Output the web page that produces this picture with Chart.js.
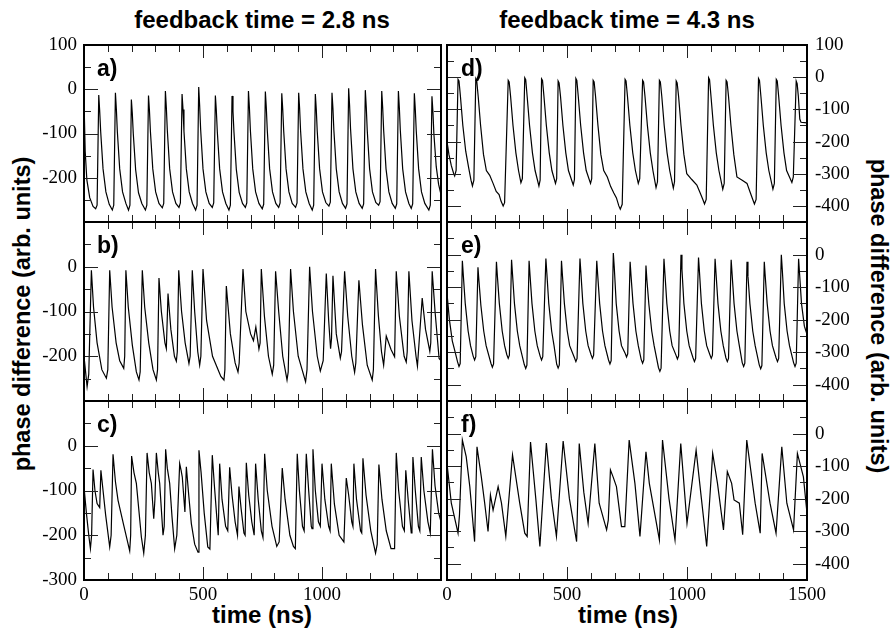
<!DOCTYPE html>
<html>
<head>
<meta charset="utf-8">
<script src="https://cdn.jsdelivr.net/npm/chart.js@4.4.1/dist/chart.umd.min.js"></script>
<style>
body { margin: 0; background: #fff; width: 894px; height: 632px; position: relative; overflow: hidden; font-family: "Liberation Sans", Arial, sans-serif; }
canvas { position: absolute; }
.t { position: absolute; font-weight: bold; font-size: 24px; line-height: 24px; white-space: nowrap; color: #000; }
.lab { position: absolute; font-weight: bold; font-size: 23px; line-height: 23px; color: #000; }
</style>
</head>
<body>
<div class="t" style="left:262px;top:8px;transform:translateX(-50%)">feedback time = 2.8 ns</div>
<div class="t" style="left:627px;top:8px;transform:translateX(-50%)">feedback time = 4.3 ns</div>
<div class="t" style="left:262px;top:603px;transform:translateX(-50%)">time (ns)</div>
<div class="t" style="left:628px;top:603px;transform:translateX(-50%)">time (ns)</div>
<div class="t" style="left:22px;top:314px;font-size:23.5px;transform:translate(-50%,-50%) rotate(-90deg)">phase difference (arb. units)</div>
<div class="t" style="left:879px;top:316px;font-size:23.5px;transform:translate(-50%,-50%) rotate(90deg)">phase difference (arb. units)</div>

<script>
// time axis (ns) shared by all panels
const timeTicks = [0, 500, 1000, 1500];

// left column: feedback time = 2.8 ns
const seriesA = [
  [0,-25],[5,-140],[12,-205],[24,-245],[38,-265],[49,-270],[55,-262],
  [62,-13],[66,-50],[70,-95],[80,-180],[92,-232],[106,-260],[119,-273],[125,-262],
  [132,-8],[136,-45],[140,-95],[150,-180],[162,-232],[176,-258],[187,-273],[193,-262],
  [199,-23],[203,-55],[207,-100],[217,-182],[229,-234],[243,-258],[258,-273],[264,-262],
  [271,-14],[275,-48],[279,-95],[289,-180],[301,-232],[315,-258],[329,-268],[335,-258],
  [342,-4],[346,-42],[350,-92],[360,-180],[372,-232],[386,-258],[399,-267],[405,-257],
  [412,-11],[416,-46],[420,-95],[430,-180],[442,-232],[456,-258],[469,-273],[475,-262],
  [482,5],[486,-38],[490,-90],[500,-180],[512,-232],[526,-258],[539,-267],[545,-257],
  [552,-14],[556,-48],[560,-95],[570,-180],[582,-232],[596,-258],[609,-273],[615,-262],
  [622,-15],[626,-50],[630,-96],[640,-181],[652,-233],[666,-258],[678,-267],[684,-257],
  [691,-4],[695,-42],[699,-92],[709,-180],[721,-232],[735,-258],[749,-270],[755,-260],
  [762,-5],[766,-42],[770,-92],[780,-180],[792,-232],[806,-258],[818,-267],[824,-257],
  [831,-9],[835,-45],[839,-94],[849,-180],[861,-232],[875,-258],[889,-267],[895,-257],
  [902,-8],[906,-44],[910,-94],[920,-180],[932,-232],[946,-258],[959,-273],[965,-262],
  [972,-11],[976,-46],[980,-95],[990,-180],[1002,-232],[1016,-256],[1029,-264],[1035,-255],
  [1042,-8],[1046,-44],[1050,-94],[1060,-180],[1072,-232],[1086,-258],[1099,-269],[1105,-259],
  [1112,2],[1116,-38],[1120,-90],[1130,-180],[1142,-232],[1156,-258],[1169,-269],[1175,-259],
  [1182,-2],[1186,-40],[1190,-92],[1200,-180],[1212,-232],[1226,-256],[1238,-262],[1244,-254],
  [1251,-4],[1255,-42],[1259,-92],[1269,-180],[1281,-232],[1295,-258],[1308,-269],[1314,-259],
  [1321,-4],[1325,-42],[1329,-92],[1339,-180],[1351,-232],[1365,-258],[1375,-269],[1381,-259],
  [1388,-9],[1392,-45],[1396,-94],[1406,-180],[1418,-232],[1432,-258],[1449,-273],[1455,-262],
  [1462,-16],[1466,-50],[1470,-100],[1480,-175],[1490,-215],[1500,-238]
];

const seriesB = [
  [0,-200],[13,-268],[20,-240],[31,-8],[40,-90],[55,-170],[75,-230],[94,-249],[100,-230],
  [108,-8],[118,-90],[135,-170],[150,-210],[167,-227],[171,-200],[176,-8],[186,-90],[203,-175],
  [220,-235],[231,-253],[236,-235],[245,-8],[255,-90],[272,-170],[290,-230],[304,-253],[309,-230],
  [315,-25],[325,-100],[340,-170],[346,-183],[353,-60],[365,-140],[380,-200],[388,-211],[392,-190],
  [398,-8],[410,-100],[425,-170],[441,-216],[446,-200],[455,-8],[465,-100],[478,-190],[486,-220],
  [491,-200],[500,-5],[515,-120],[540,-200],[575,-245],[588,-253],[592,-230],[598,-43],[615,-150],
  [635,-215],[647,-235],[652,-215],[668,-5],[680,-100],[700,-150],[712,-165],[722,-135],[735,-184],
  [740,-170],[745,-5],[758,-110],[775,-200],[791,-240],[797,-220],[805,-10],[818,-100],[835,-200],
  [853,-253],[858,-235],[868,-5],[880,-100],[900,-200],[931,-257],[937,-230],[948,0],[960,-100],
  [980,-200],[993,-233],[1005,-210],[1018,-15],[1028,-120],[1036,-183],[1040,-160],[1046,-20],
  [1060,-150],[1077,-204],[1082,-190],[1095,-10],[1108,-110],[1125,-200],[1137,-236],[1142,-215],
  [1155,-30],[1170,-130],[1190,-220],[1211,-253],[1216,-230],[1225,-5],[1237,-110],[1250,-190],
  [1259,-220],[1270,-155],[1290,-185],[1305,-201],[1312,-10],[1325,-110],[1345,-200],[1354,-213],
  [1358,-190],[1365,-10],[1378,-120],[1395,-200],[1401,-222],[1421,-70],[1435,-140],[1453,-189],
  [1457,-170],[1463,-10],[1475,-100],[1492,-205],[1500,-210]
];

const seriesC = [
  [0,-92],[10,-150],[20,-200],[27,-230],[32,-200],[38,-53],[46,-100],[55,-129],[66,-138],[71,-55],
  [80,-100],[91,-155],[108,-226],[114,-200],[122,-19],[132,-80],[143,-122],[155,-150],[167,-178],
  [192,-235],[196,-200],[200,-23],[210,-60],[220,-84],[241,-204],[251,-240],[258,-200],[265,-16],
  [274,-60],[283,-84],[293,-163],[298,-120],[304,-16],[312,-60],[318,-84],[332,-200],[337,-180],
  [343,-8],[350,-50],[360,-84],[370,-160],[381,-230],[390,-200],[402,-40],[408,-55],[413,-70],
  [424,-148],[430,-47],[440,-110],[451,-174],[465,-220],[479,-238],[483,-10],[492,-60],[505,-150],
  [520,-226],[529,-231],[539,-21],[548,-90],[558,-160],[564,-200],[570,-40],[580,-120],[595,-180],
  [604,-190],[612,-48],[622,-110],[635,-170],[645,-200],[651,-91],[660,-140],[672,-195],[677,-200],
  [682,-38],[692,-110],[705,-170],[715,-200],[721,-40],[732,-120],[745,-190],[752,-205],[759,-18],
  [770,-100],[790,-180],[810,-225],[820,-215],[833,-50],[845,-120],[865,-200],[880,-225],[888,-230],
  [896,-18],[905,-100],[918,-180],[925,-190],[934,-18],[944,-100],[955,-180],[958,-185],[962,-8],
  [972,-100],[985,-170],[993,-180],[1000,-40],[1012,-120],[1028,-180],[1034,-190],[1039,-40],
  [1052,-130],[1072,-200],[1092,-215],[1102,-72],[1112,-110],[1125,-170],[1130,-180],[1134,-40],
  [1145,-120],[1162,-190],[1167,-195],[1172,-28],[1185,-110],[1205,-190],[1225,-240],[1232,-220],
  [1239,-42],[1252,-120],[1270,-190],[1290,-230],[1305,-230],[1312,-16],[1322,-100],[1338,-180],
  [1346,-190],[1352,-55],[1362,-120],[1375,-195],[1378,-190],[1382,-25],[1392,-100],[1405,-180],
  [1411,-190],[1417,-25],[1428,-100],[1445,-170],[1455,-195],[1464,-8],[1475,-90],[1490,-150],[1500,-170]
];

// right column: feedback time = 4.3 ns
const seriesD = [
  [0,-200],[8,-240],[18,-275],[28,-300],[32,-307],[38,-290],
  [46,-7],[50,-12],[56,-60],[66,-150],[78,-230],[90,-280],[100,-320],[106,-338],[112,-320],
  [120,-5],[124,-12],[130,-60],[140,-150],[152,-240],[164,-290],[178,-305],[192,-330],[205,-355],
  [217,-365],[225,-385],[234,-400],[240,-390],
  [255,-10],[259,-15],[265,-60],[275,-150],[287,-235],[298,-290],[308,-328],[314,-315],
  [324,-2],[328,-8],[334,-60],[344,-150],[356,-235],[367,-290],[383,-338],[388,-320],
  [394,-5],[398,-10],[404,-60],[414,-150],[426,-235],[437,-290],[452,-330],[457,-315],
  [463,-12],[467,-18],[473,-60],[483,-150],[495,-235],[506,-290],[526,-335],[531,-318],
  [537,-4],[541,-10],[547,-60],[557,-150],[569,-235],[580,-290],[598,-330],[603,-315],
  [609,-10],[613,-15],[619,-60],[629,-150],[641,-240],[653,-290],[668,-310],[682,-340],[695,-360],
  [706,-375],[716,-400],[722,-410],[730,-395],
  [742,-7],[746,-12],[752,-60],[762,-150],[774,-235],[785,-290],[797,-330],[803,-315],
  [815,-10],[819,-15],[825,-60],[835,-150],[847,-235],[858,-290],[871,-343],[877,-325],
  [885,-10],[889,-15],[895,-60],[905,-150],[917,-235],[928,-290],[943,-345],[948,-325],
  [955,-12],[959,-18],[965,-60],[975,-150],[987,-240],[999,-300],[1020,-318],[1041,-335],[1055,-360],
  [1066,-380],[1073,-394],[1080,-380],
  [1090,-2],[1094,-8],[1100,-60],[1110,-150],[1122,-235],[1133,-290],[1149,-348],[1155,-330],
  [1163,-10],[1167,-15],[1173,-60],[1183,-150],[1195,-240],[1208,-310],[1230,-320],[1250,-330],
  [1262,-355],[1274,-380],[1281,-394],[1288,-380],
  [1298,-4],[1302,-10],[1308,-60],[1318,-150],[1330,-235],[1341,-290],[1358,-348],[1364,-330],
  [1372,-7],[1376,-12],[1382,-60],[1392,-150],[1404,-235],[1415,-290],[1437,-327],[1443,-310],
  [1455,-12],[1459,-20],[1464,-60],[1470,-130],[1475,-140],[1500,-142]
];

const seriesE = [
  [0,-120],[10,-200],[22,-265],[34,-300],[44,-330],[50,-344],[55,-335],
  [64,-19],[68,-64],[76,-150],[88,-235],[98,-280],[109,-312],[115,-324],[120,-314],
  [129,-39],[133,-80],[141,-155],[153,-235],[163,-280],[183,-334],[189,-346],[194,-336],
  [206,-22],[210,-67],[218,-150],[230,-235],[240,-280],[249,-307],[255,-319],[260,-309],
  [269,-16],[273,-61],[281,-150],[293,-235],[303,-280],[322,-338],[328,-350],[333,-340],
  [342,-19],[346,-64],[354,-150],[366,-235],[376,-280],[388,-312],[394,-324],[399,-314],
  [412,-12],[416,-57],[424,-150],[436,-235],[446,-280],[457,-337],[463,-349],[468,-339],
  [477,-19],[481,-64],[489,-150],[501,-235],[511,-280],[531,-317],[537,-329],[542,-319],
  [554,-12],[558,-57],[566,-150],[578,-235],[588,-280],[600,-307],[606,-319],[611,-309],
  [624,-19],[628,-64],[636,-150],[648,-235],[658,-280],[673,-324],[679,-336],[684,-326],
  [693,5],[697,-40],[705,-150],[717,-235],[727,-280],[742,-303],[748,-315],[753,-305],
  [763,-22],[767,-67],[775,-150],[787,-235],[797,-280],[809,-322],[815,-334],[820,-324],
  [829,-34],[833,-79],[841,-152],[853,-235],[863,-280],[881,-347],[887,-359],[892,-349],
  [904,-13],[908,-58],[916,-150],[928,-235],[938,-280],[954,-309],[960,-321],[965,-311],
  [975,-1],[979,-46],[987,-150],[999,-235],[1009,-280],[1025,-317],[1031,-329],[1036,-319],
  [1048,-9],[1052,-54],[1060,-150],[1072,-235],[1082,-280],[1095,-307],[1101,-319],[1106,-309],
  [1117,-13],[1121,-58],[1129,-150],[1141,-235],[1151,-280],[1162,-317],[1168,-329],[1173,-319],
  [1184,-16],[1188,-61],[1196,-150],[1208,-235],[1218,-280],[1230,-332],[1236,-344],[1241,-334],
  [1250,-22],[1254,-67],[1262,-150],[1274,-235],[1284,-280],[1301,-339],[1307,-351],[1312,-341],
  [1322,-22],[1326,-67],[1334,-150],[1346,-235],[1356,-280],[1371,-317],[1377,-329],[1382,-319],
  [1393,-1],[1397,-46],[1405,-150],[1417,-235],[1427,-280],[1444,-332],[1450,-344],[1455,-334],
  [1465,-13],[1469,-58],[1477,-150],[1489,-220],[1500,-245]
];

const seriesF = [
  [0,-92],[18,-214],[46,-306],[52,-250],[64,-20],[80,-71],[95,-163],[115,-332],[125,-41],[143,-133],
  [157,-214],[171,-301],[181,-189],[192,-235],[213,-163],[227,-214],[245,-316],[273,-66],[303,-214],
  [324,-306],[334,-316],[348,-26],[370,-200],[387,-347],[414,-29],[435,-200],[456,-316],[484,-23],
  [510,-200],[540,-332],[551,-31],[570,-180],[588,-276],[616,-31],[634,-214],[665,-296],[672,-266],
  [681,-112],[692,-133],[706,-163],[727,-286],[741,-286],[759,-20],[783,-153],[804,-316],[829,-56],
  [843,-153],[885,-327],[898,-20],[925,-200],[950,-327],[974,-31],[1000,-276],[1038,-51],[1060,-200],
  [1082,-347],[1107,-61],[1127,-153],[1152,-296],[1168,-117],[1186,-153],[1196,-204],[1218,-214],
  [1232,-311],[1249,-20],[1284,-214],[1305,-306],[1313,-61],[1346,-214],[1371,-306],[1395,-41],
  [1416,-214],[1444,-296],[1460,-61],[1485,-133],[1500,-245]
];

// panel definitions: series, column, y range, tick labels shown
const panels = [
  { id: 'a', data: seriesA, col: 0, row: 0, yMin: -300, yMax: 100, yLabels: [100, 0, -100, -200], xLabels: [] },
  { id: 'b', data: seriesB, col: 0, row: 1, yMin: -300, yMax: 100, yLabels: [0, -100, -200], xLabels: [] },
  { id: 'c', data: seriesC, col: 0, row: 2, yMin: -300, yMax: 100, yLabels: [0, -100, -200, -300], xLabels: [0, 500, 1000] },
  { id: 'd', data: seriesD, col: 1, row: 0, yMin: -450, yMax: 100, yLabels: [100, 0, -100, -200, -300, -400], xLabels: [] },
  { id: 'e', data: seriesE, col: 1, row: 1, yMin: -450, yMax: 100, yLabels: [0, -100, -200, -300, -400], xLabels: [] },
  { id: 'f', data: seriesF, col: 1, row: 2, yMin: -450, yMax: 100, yLabels: [0, -100, -200, -300, -400], xLabels: timeTicks }
];

const rowTop = [45, 222, 401];
const rowBottom = [222, 401, 580];
const colLeft = [84, 447];
const colRight = [441, 807];
const canvasLeft = [0, 434];
const canvasWidth = [454, 460];
const PAD = 26;

// inward ticks on all four sides plus the frame
const framePlugin = {
  id: 'frame',
  afterDatasetsDraw(chart) {
    const { ctx, chartArea: a, scales: { x, y } } = chart;
    ctx.save();
    ctx.strokeStyle = '#222';
    ctx.lineWidth = 1;
    ctx.beginPath();
    for (let v = 0; v <= 1500; v += 100) {
      const px = Math.round(x.getPixelForValue(v)) + 0.5;
      const len = v % 500 === 0 ? 13 : 7;
      ctx.moveTo(px, a.top); ctx.lineTo(px, a.top + len);
      ctx.moveTo(px, a.bottom); ctx.lineTo(px, a.bottom - len);
    }
    for (let v = y.min; v <= y.max; v += 50) {
      const py = Math.round(y.getPixelForValue(v)) + 0.5;
      const len = v % 100 === 0 ? 14 : 7;
      ctx.moveTo(a.left, py); ctx.lineTo(a.left + len, py);
      ctx.moveTo(a.right, py); ctx.lineTo(a.right - len, py);
    }
    ctx.stroke();
    ctx.strokeStyle = '#000';
    ctx.lineWidth = 2;
    ctx.strokeRect(a.left, a.top, a.right - a.left, a.bottom - a.top);
    ctx.restore();
  }
};

const tickFont = { family: '"Liberation Serif", "Times New Roman", serif', size: 19 };

panels.forEach((p) => {
  const hasX = p.xLabels.length > 0;
  const xH = hasX ? 40 : 0;
  const canvas = document.createElement('canvas');
  const left = canvasLeft[p.col];
  const width = canvasWidth[p.col];
  const plotH = rowBottom[p.row] - rowTop[p.row];
  const height = PAD + plotH + (hasX ? xH : PAD);
  const canvasTop = rowTop[p.row] - PAD;
  canvas.width = width;
  canvas.height = height;
  canvas.style.left = left + 'px';
  canvas.style.top = canvasTop + 'px';
  canvas.style.width = width + 'px';
  canvas.style.height = height + 'px';
  document.body.appendChild(canvas);

  const chart = new Chart(canvas.getContext('2d'), {
    type: 'line',
    data: {
      datasets: [{
        data: p.data.map((d) => ({ x: d[0], y: d[1] })),
        borderColor: '#000',
        borderWidth: 1.2,
        pointRadius: 0,
        tension: 0,
        fill: false
      }]
    },
    options: {
      responsive: false,
      animation: false,
      events: [],
      layout: {
        padding: {
          top: PAD,
          bottom: hasX ? 0 : PAD,
          left: colLeft[p.col] - left - (p.col === 0 ? 84 : 0),
          right: width - (colRight[p.col] - left) - (p.col === 0 ? 0 : 87)
        }
      },
      plugins: { legend: { display: false }, tooltip: { enabled: false } },
      scales: {
        x: {
          type: 'linear',
          min: 0,
          max: 1500,
          grid: { display: false, drawTicks: false },
          border: { display: false },
          ticks: {
            display: hasX,
            stepSize: 100,
            autoSkip: false,
            maxRotation: 0,
            padding: 4,
            color: '#000',
            font: tickFont,
            callback: (v) => (p.xLabels.includes(v) ? String(v) : '')
          },
          afterFit: (s) => { s.height = xH; }
        },
        y: {
          type: 'linear',
          position: p.col === 0 ? 'left' : 'right',
          min: p.yMin,
          max: p.yMax,
          grid: { display: false, drawTicks: false },
          border: { display: false },
          ticks: {
            stepSize: 50,
            autoSkip: false,
            padding: p.col === 0 ? 7 : 8,
            color: '#000',
            font: tickFont,
            callback: (v) => (p.yLabels.includes(v) ? String(v) : '')
          },
          afterFit: (s) => { s.width = p.col === 0 ? 84 : 87; }
        }
      }
    },
    plugins: [framePlugin]
  });

  const lab = document.createElement('div');
  lab.className = 'lab';
  lab.textContent = p.id + ')';
  lab.style.left = (p.col === 0 ? 97 : 461) + 'px';
  lab.style.top = (rowTop[p.row] + 31 - 19.5) + 'px';
  document.body.appendChild(lab);
});
</script>
</body>
</html>
